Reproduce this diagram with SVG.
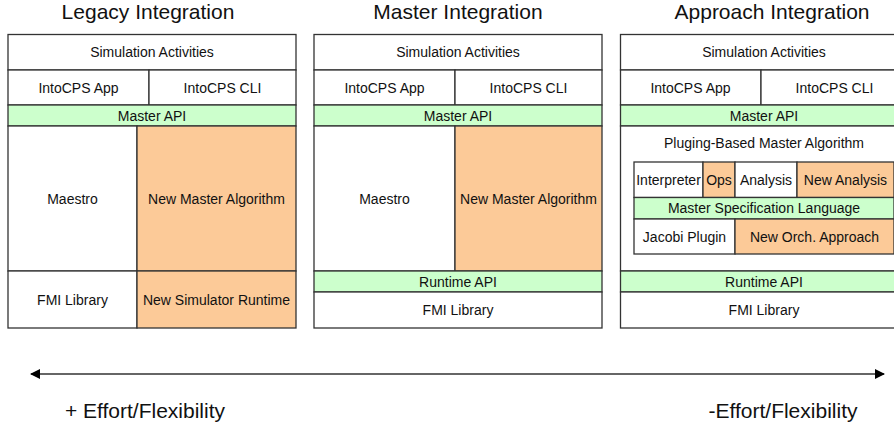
<svg xmlns="http://www.w3.org/2000/svg" width="894" height="425" viewBox="0 0 894 425">
<style>
.c{stroke:#333;stroke-width:1.3;fill:#fff}
.g{fill:#ccffcc}
.o{fill:#fcca98}
text{font-family:"Liberation Sans",Arial,sans-serif;fill:#111;text-anchor:middle}
.t{font-size:14px}
.h{font-size:21px}
</style>
<defs>
<marker id="ah" viewBox="0 0 10 10" refX="9" refY="5" markerWidth="10" markerHeight="10" markerUnits="userSpaceOnUse" orient="auto-start-reverse">
<path d="M0,0 L10,5 L0,10 Z" fill="#000"/>
</marker>
</defs>
<rect width="894" height="425" fill="#fff"/>
<text class="h" x="148" y="19">Legacy Integration</text>
<text class="h" x="458" y="19">Master Integration</text>
<text class="h" x="772" y="19">Approach Integration</text>

<g id="legacy">
<g id="l-sim"><rect class="c" x="8" y="34.5" width="288" height="35.5"/><text class="t" x="152" y="57">Simulation Activities</text></g>
<g id="l-app"><rect class="c" x="8" y="70" width="141" height="35"/><text class="t" x="78.5" y="92.5">IntoCPS App</text></g>
<g id="l-cli"><rect class="c" x="149" y="70" width="147" height="35"/><text class="t" x="222.5" y="92.5">IntoCPS CLI</text></g>
<g id="l-api"><rect class="c g" x="8" y="105" width="288" height="21"/><text class="t" x="152" y="120.5">Master API</text></g>
<g id="l-maestro"><rect class="c" x="8" y="126" width="129" height="145"/><text class="t" x="72.5" y="204">Maestro</text></g>
<g id="l-nma"><rect class="c o" x="137" y="126" width="159" height="145"/><text class="t" x="216.5" y="204">New Master Algorithm</text></g>
<g id="l-fmi"><rect class="c" x="8" y="271" width="129" height="57"/><text class="t" x="72.5" y="305">FMI Library</text></g>
<g id="l-nsr"><rect class="c o" x="137" y="271" width="159" height="57"/><text class="t" x="216.5" y="305">New Simulator Runtime</text></g>
</g>

<g id="master">
<g id="m-sim"><rect class="c" x="314" y="34.5" width="288" height="35.5"/><text class="t" x="458" y="57">Simulation Activities</text></g>
<g id="m-app"><rect class="c" x="314" y="70" width="141" height="35"/><text class="t" x="384.5" y="92.5">IntoCPS App</text></g>
<g id="m-cli"><rect class="c" x="455" y="70" width="147" height="35"/><text class="t" x="528.5" y="92.5">IntoCPS CLI</text></g>
<g id="m-api"><rect class="c g" x="314" y="105" width="288" height="21"/><text class="t" x="458" y="120.5">Master API</text></g>
<g id="m-maestro"><rect class="c" x="314" y="126" width="141" height="145"/><text class="t" x="384.5" y="204">Maestro</text></g>
<g id="m-nma"><rect class="c o" x="455" y="126" width="147" height="145"/><text class="t" x="528.5" y="204">New Master Algorithm</text></g>
<g id="m-rapi"><rect class="c g" x="314" y="271" width="288" height="21"/><text class="t" x="458" y="286.5">Runtime API</text></g>
<g id="m-fmi"><rect class="c" x="314" y="292" width="288" height="36"/><text class="t" x="458" y="315">FMI Library</text></g>
</g>

<g id="approach">
<g id="a-sim"><rect class="c" x="620.5" y="34.5" width="288" height="35.5"/><text class="t" x="764" y="57">Simulation Activities</text></g>
<g id="a-app"><rect class="c" x="620.5" y="70" width="140.5" height="35"/><text class="t" x="690.5" y="92.5">IntoCPS App</text></g>
<g id="a-cli"><rect class="c" x="761" y="70" width="147" height="35"/><text class="t" x="834.5" y="92.5">IntoCPS CLI</text></g>
<g id="a-api"><rect class="c g" x="620.5" y="105" width="288" height="21"/><text class="t" x="764" y="120.5">Master API</text></g>
<g id="a-pbma"><rect class="c" x="620.5" y="126" width="288" height="145"/><text class="t" x="764" y="148">Pluging-Based Master Algorithm</text></g>
<g id="a-interp"><rect class="c" x="634" y="162" width="69" height="35.5"/><text class="t" x="668.5" y="185">Interpreter</text></g>
<g id="a-ops"><rect class="c o" x="703" y="162" width="32" height="35.5"/><text class="t" x="719" y="185">Ops</text></g>
<g id="a-analysis"><rect class="c" x="735" y="162" width="62" height="35.5"/><text class="t" x="766" y="185">Analysis</text></g>
<g id="a-newanalysis"><rect class="c o" x="797" y="162" width="97" height="35.5"/><text class="t" x="845.5" y="185">New Analysis</text></g>
<g id="a-msl"><rect class="c g" x="634" y="197.5" width="260" height="21.5"/><text class="t" x="764" y="213">Master Specification Language</text></g>
<g id="a-jacobi"><rect class="c" x="634" y="219" width="101" height="35"/><text class="t" x="684.5" y="242">Jacobi Plugin</text></g>
<g id="a-neworch"><rect class="c o" x="735" y="219" width="159" height="35"/><text class="t" x="814.5" y="242">New Orch. Approach</text></g>
<g id="a-rapi"><rect class="c g" x="620.5" y="271" width="288" height="21"/><text class="t" x="764" y="286.5">Runtime API</text></g>
<g id="a-fmi"><rect class="c" x="620.5" y="292" width="288" height="36"/><text class="t" x="764" y="315">FMI Library</text></g>
</g>

<g id="connectors">
<line x1="31" y1="374" x2="884" y2="374" stroke="#333" stroke-width="1.5" marker-start="url(#ah)" marker-end="url(#ah)"/>
</g>
<text class="h" x="145" y="418">+ Effort/Flexibility</text>
<text class="h" x="783" y="418">-Effort/Flexibility</text>
</svg>
